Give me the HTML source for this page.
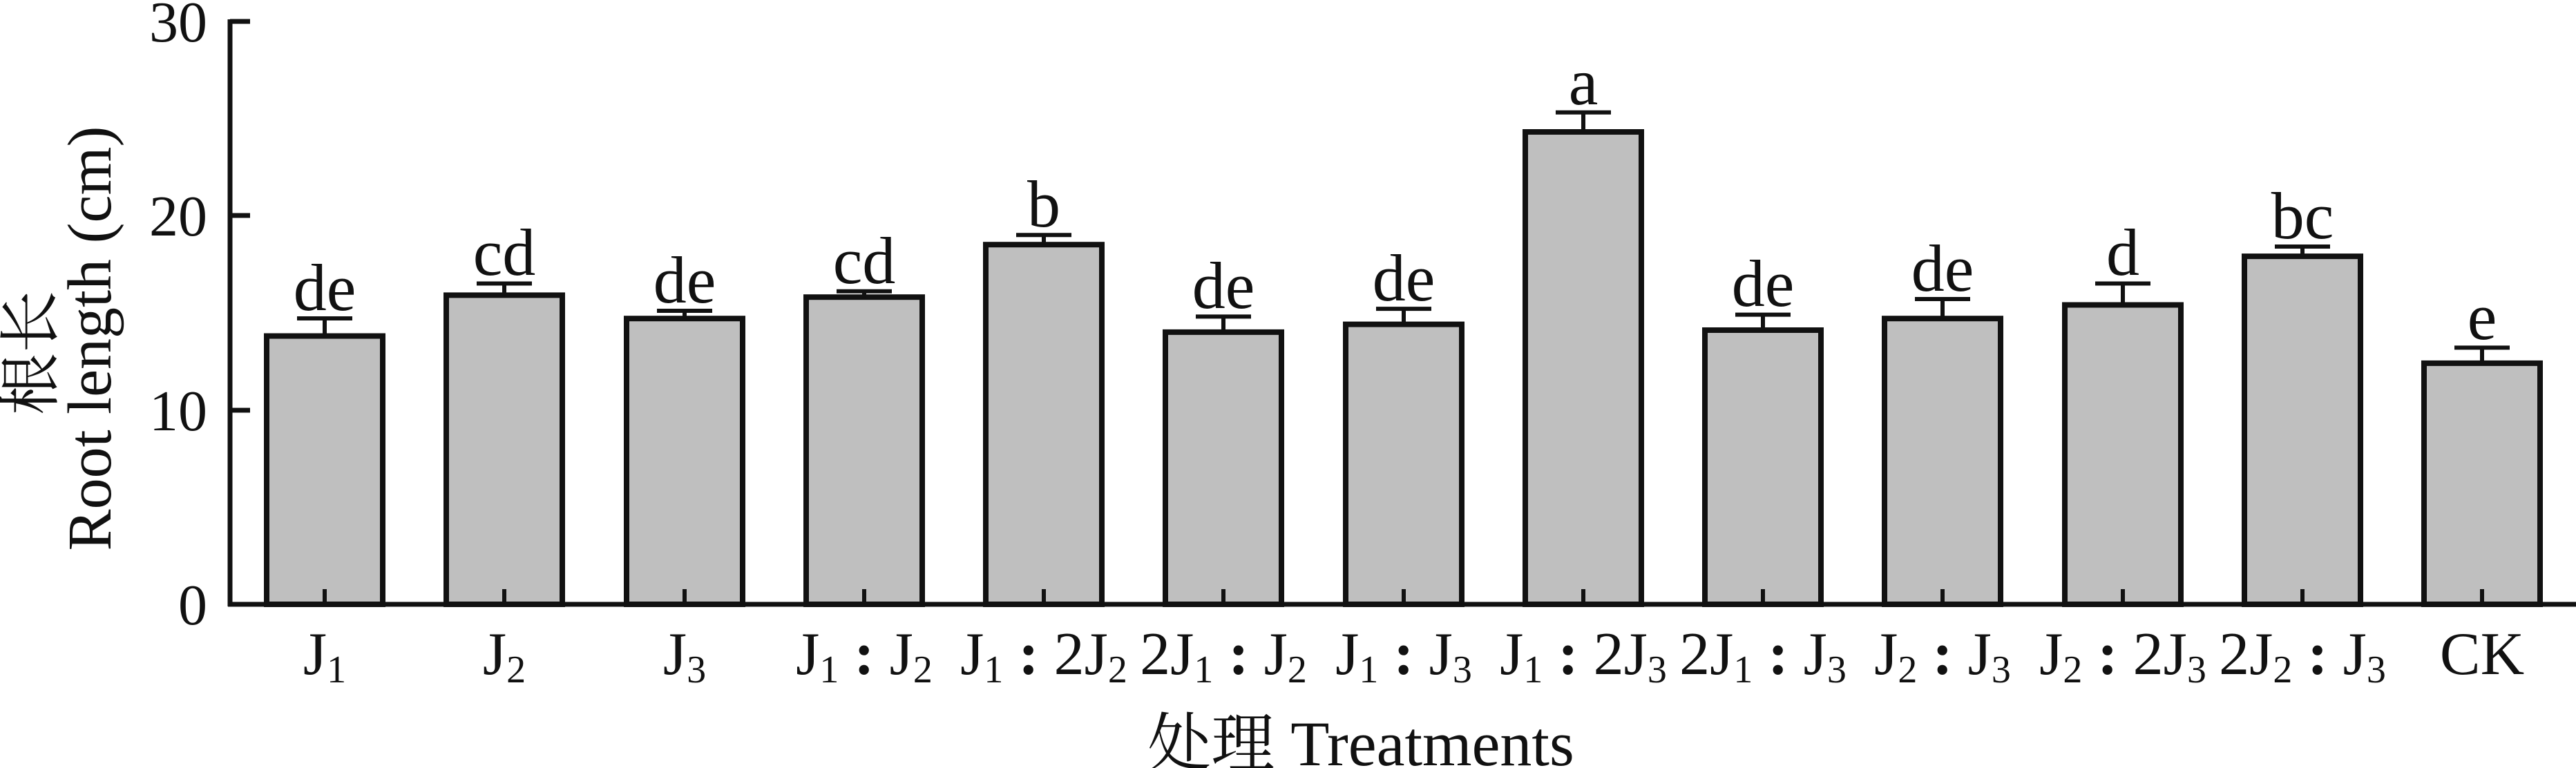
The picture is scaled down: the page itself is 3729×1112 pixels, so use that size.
<!DOCTYPE html>
<html><head><meta charset="utf-8"><style>html,body{margin:0;padding:0;background:#fff}svg{display:block}text{font-family:"Liberation Serif","Noto Serif CJK SC",serif;fill:#111}</style></head><body>
<svg width="3729" height="1112" viewBox="0 0 3729 1112" xmlns="http://www.w3.org/2000/svg">
<g fill="#bfbfbf" stroke="#111" stroke-width="8">
<rect x="386" y="486.5" width="168" height="388.5"/>
<rect x="646" y="427.4" width="168" height="447.6"/>
<rect x="907" y="461.2" width="168" height="413.8"/>
<rect x="1167" y="430.2" width="168" height="444.8"/>
<rect x="1427" y="354.2" width="168" height="520.8"/>
<rect x="1687" y="480.9" width="168" height="394.1"/>
<rect x="1948" y="469.6" width="168" height="405.4"/>
<rect x="2208" y="191" width="168" height="684"/>
<rect x="2468" y="478" width="168" height="397"/>
<rect x="2728" y="461.2" width="168" height="413.8"/>
<rect x="2989" y="441.5" width="168" height="433.5"/>
<rect x="3249" y="371.1" width="168" height="503.9"/>
<rect x="3509" y="525.9" width="168" height="349.1"/>
</g>
<g stroke="#111" stroke-width="6" fill="none">
<path d="M470 486.5V461M430 461H510"/>
<path d="M730 427.4V410.5M690 410.5H770"/>
<path d="M991 461.2V450M951 450H1031"/>
<path d="M1251 430.2V421.8M1211 421.8H1291"/>
<path d="M1511 354.2V340.2M1471 340.2H1551"/>
<path d="M1771 480.9V458.4M1731 458.4H1811"/>
<path d="M2032 469.6V447.1M1992 447.1H2072"/>
<path d="M2292 191V162.8M2252 162.8H2332"/>
<path d="M2552 478V455.6M2512 455.6H2592"/>
<path d="M2812 461.2V433M2772 433H2852"/>
<path d="M3073 441.5V410.5M3033 410.5H3113"/>
<path d="M3333 371.1V357M3293 357H3373"/>
<path d="M3593 525.9V503.4M3553 503.4H3633"/>
<path d="M470 875V853M730 875V853M991 875V853M1251 875V853M1511 875V853M1771 875V853M2032 875V853M2292 875V853M2552 875V853M2812 875V853M3073 875V853M3333 875V853M3593 875V853"/>
</g>
<g stroke="#111" stroke-width="7" fill="none">
<path d="M333 28V878M330 875H3729"/>
<path d="M333 31H362M333 312H362M333 594H362"/>
</g>
<g font-size="84" text-anchor="end">
<text x="300" y="60">30</text><text x="300" y="341">20</text><text x="300" y="623">10</text><text x="300" y="904">0</text>
</g>
<g font-size="96" text-anchor="middle">
<text x="470" y="449">de</text><text x="730" y="398">cd</text><text x="991" y="438">de</text><text x="1251" y="410">cd</text>
<text x="1511" y="328">b</text><text x="1771" y="446">de</text><text x="2032" y="435">de</text><text x="2292" y="151">a</text>
<text x="2552" y="443">de</text><text x="2812" y="421">de</text><text x="3073" y="398">d</text><text x="3333" y="345">bc</text><text x="3593" y="491">e</text>
</g>
<g font-size="88" text-anchor="middle">
<text x="470" y="976">J<tspan font-size="56" dy="12">1</tspan></text>
<text x="730" y="976">J<tspan font-size="56" dy="12">2</tspan></text>
<text x="991" y="976">J<tspan font-size="56" dy="12">3</tspan></text>
<text x="1251" y="976">J<tspan font-size="56" dy="12">1</tspan><tspan dy="-12" font-weight="bold"> : </tspan><tspan>J</tspan><tspan font-size="56" dy="12">2</tspan></text>
<text x="1511" y="976">J<tspan font-size="56" dy="12">1</tspan><tspan dy="-12" font-weight="bold"> : </tspan><tspan>2J</tspan><tspan font-size="56" dy="12">2</tspan></text>
<text x="1771" y="976">2J<tspan font-size="56" dy="12">1</tspan><tspan dy="-12" font-weight="bold"> : </tspan><tspan>J</tspan><tspan font-size="56" dy="12">2</tspan></text>
<text x="2032" y="976">J<tspan font-size="56" dy="12">1</tspan><tspan dy="-12" font-weight="bold"> : </tspan><tspan>J</tspan><tspan font-size="56" dy="12">3</tspan></text>
<text x="2292" y="976">J<tspan font-size="56" dy="12">1</tspan><tspan dy="-12" font-weight="bold"> : </tspan><tspan>2J</tspan><tspan font-size="56" dy="12">3</tspan></text>
<text x="2552" y="976">2J<tspan font-size="56" dy="12">1</tspan><tspan dy="-12" font-weight="bold"> : </tspan><tspan>J</tspan><tspan font-size="56" dy="12">3</tspan></text>
<text x="2812" y="976">J<tspan font-size="56" dy="12">2</tspan><tspan dy="-12" font-weight="bold"> : </tspan><tspan>J</tspan><tspan font-size="56" dy="12">3</tspan></text>
<text x="3073" y="976">J<tspan font-size="56" dy="12">2</tspan><tspan dy="-12" font-weight="bold"> : </tspan><tspan>2J</tspan><tspan font-size="56" dy="12">3</tspan></text>
<text x="3333" y="976">2J<tspan font-size="56" dy="12">2</tspan><tspan dy="-12" font-weight="bold"> : </tspan><tspan>J</tspan><tspan font-size="56" dy="12">3</tspan></text>
<text x="3593" y="976">CK</text>
</g>
<text x="1970" y="1108" font-size="92" text-anchor="middle">处理 Treatments</text>
<text transform="translate(75,511) rotate(-90)" font-size="90" text-anchor="middle">根长</text>
<text transform="translate(160,490) rotate(-90)" font-size="90" text-anchor="middle">Root length (cm)</text>
</svg>
</body></html>
